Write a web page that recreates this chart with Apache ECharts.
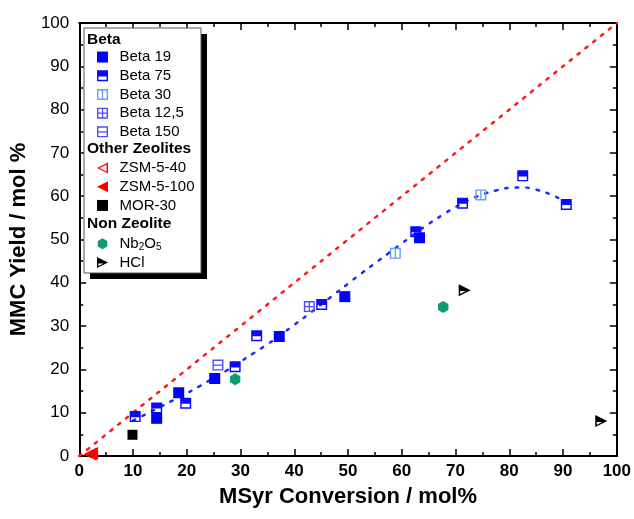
<!DOCTYPE html>
<html>
<head>
<meta charset="utf-8">
<script src="https://cdn.jsdelivr.net/npm/echarts@6/dist/echarts.min.js"></script>
<style>
html,body{margin:0;padding:0;background:#fff;}
#c{width:634px;height:519px;}
</style>
</head>
<body>
<div id="c"></div>
<script>
// ---- data ----
var xTicks = [0,10,20,30,40,50,60,70,80,90,100];
var yTicks = [0,10,20,30,40,50,60,70,80,90,100];

var beta19X = [14.4, 18.5, 25.2, 37.2, 49.4, 63.3];
var beta19Y = [8.7, 14.6, 17.9, 27.6, 36.8, 50.4];

var beta75X = [10.4, 14.4, 19.8, 29.0, 33.0, 45.1, 62.6, 71.3, 82.5, 90.6];
var beta75Y = [9.1, 11.1, 12.2, 20.6, 27.8, 35.0, 51.8, 58.4, 64.7, 58.1];

var beta30X = [58.8, 74.7];
var beta30Y = [46.8, 60.3];

var beta125X = [42.8];
var beta125Y = [34.5];

var beta150X = [25.8];
var beta150Y = [21.0];

var zsm40X = [2.0];
var zsm40Y = [0.4];
var zsm100X = [2.3];
var zsm100Y = [0.6];

var mor30X = [9.9];
var mor30Y = [4.9];

var nbX = [29.0, 67.7];
var nbY = [17.7, 34.4];

var hclX = [71.7, 97.1];
var hclY = [38.3, 8.1];

var parityX = [0, 100];
var parityY = [0, 100];

var fitX = [10, 12.5, 15, 17.5, 20, 22.5, 25, 27.5, 30, 32.5, 35, 37.5, 40, 42.5, 45, 47.5, 50, 52.5, 55, 57.5, 60, 62.5, 65, 67.5, 70, 72.5, 75, 77.5, 80, 82.5, 85, 87.5, 90, 91];
var fitY = [8.2, 9.7, 11.3, 12.9, 14.5, 16.2, 18.0, 19.8, 21.8, 23.8, 25.8, 28.0, 30.3, 32.6, 35.0, 37.4, 39.8, 42.2, 44.5, 46.8, 49.1, 51.4, 53.6, 55.6, 57.5, 59.1, 60.4, 61.3, 61.9, 62.0, 61.5, 60.5, 59.0, 58.2];

function pairs(xs, ys){ return xs.map(function(x,i){ return [x, ys[i]]; }); }

// ---- symbols (holes via opposite winding) ----
var SYM_SQUARE = 'path://M0,0L100,0L100,100L0,100Z';
var SYM_TOPHALF = 'path://M0,0L100,0L100,100L0,100ZM13,56L13,87L87,87L87,56Z';
var SYM_HLINE = 'path://M0,0L100,0L100,100L0,100ZM13,13L13,44L87,44L87,13ZM13,56L13,87L87,87L87,56Z';
var SYM_VLINE = 'path://M0,0L100,0L100,100L0,100ZM13,13L13,87L44,87L44,13ZM56,13L56,87L87,87L87,13Z';
var SYM_GRID = 'path://M0,0L100,0L100,100L0,100ZM13,13L13,44L44,44L44,13ZM56,13L56,44L87,44L87,13ZM13,56L13,87L44,87L44,56ZM56,56L56,87L87,87L87,56Z';
var SYM_LTRI = 'path://M0,50L100,0L100,100Z';
var SYM_LTRI_OPEN = 'path://M0,50L100,0L100,100ZM24,50L86,81L86,19Z';
var SYM_HEX = 'path://M50,0L93.3,25L93.3,75L50,100L6.7,75L6.7,25Z';
var SYM_HCL = 'path://M0,0L100,50L0,100ZM13,58L13,82L58,58Z';

var FONT = 'Liberation Sans, Arial, sans-serif';

function sc(name, xs, ys, sym, color, size){
  return {
    name: name, type: 'scatter', data: pairs(xs, ys),
    symbol: sym, symbolSize: size || 11, symbolKeepAspect: true,
    itemStyle: {color: color, opacity: 1},
    xAxisIndex: 0, yAxisIndex: 0, z: 5
  };
}

var chart = echarts.init(document.getElementById('c'), null, {renderer: 'canvas'});

var axisCommon = {
  type: 'value', min: 0, max: 100, interval: 10,
  axisLine: {show: true, onZero: false, lineStyle: {color: '#000', width: 2}},
  axisTick: {show: true, inside: true, length: 7, lineStyle: {color: '#000', width: 1.5}},
  minorTick: {show: true, splitNumber: 2, length: 4, lineStyle: {color: '#000', width: 1.5}},
  splitLine: {show: false}
};

var legendCommon = {
  orient: 'vertical', itemWidth: 24, itemHeight: 11, itemGap: 0, padding: 0,
  selectedMode: false, z: 20,
  textStyle: {fontFamily: FONT, fontSize: 15, color: '#000', lineHeight: 18.7,
    rich: {s: {fontFamily: FONT, fontSize: 10, padding: [7,0,0,0], color: '#000'}}},
  formatter: function(n){ return n === 'Nb2O5' ? 'Nb{s|2}O{s|5}' : n; }
};

var option = {
  backgroundColor: '#fff',
  animation: false,
  grid: {left: 79, right: 15, top: 23, bottom: 63, containLabel: false},
  xAxis: [
    Object.assign({}, axisCommon, {
      position: 'bottom',
      name: 'MSyr Conversion / mol%', nameLocation: 'middle', nameGap: 30,
      nameTextStyle: {fontFamily: FONT, fontSize: 22, fontWeight: 'bold', color: '#000'},
      axisLabel: {show: true, margin: 7, fontFamily: FONT, fontSize: 17, fontWeight: 'bold', color: '#000',
        formatter: function(v){ return xTicks.indexOf(v) >= 0 ? String(v) : ''; }}
    }),
    Object.assign({}, axisCommon, {position: 'top', axisLabel: {show: false}})
  ],
  yAxis: [
    Object.assign({}, axisCommon, {
      position: 'left',
      name: 'MMC Yield / mol %', nameLocation: 'middle', nameGap: 43, nameRotate: 90,
      nameTextStyle: {fontFamily: FONT, fontSize: 22, fontWeight: 'bold', color: '#000'},
      axisLabel: {show: true, margin: 10, fontFamily: FONT, fontSize: 17, color: '#000',
        formatter: function(v){ return yTicks.indexOf(v) >= 0 ? String(v) : ''; }}
    }),
    Object.assign({}, axisCommon, {position: 'right', axisLabel: {show: false}})
  ],
  legend: [
    Object.assign({}, legendCommon, {left: 97, top: 47.7,
      data: ['Beta 19','Beta 75','Beta 30','Beta 12,5','Beta 150']}),
    Object.assign({}, legendCommon, {left: 97, top: 158.7,
      data: ['ZSM-5-40','ZSM-5-100','MOR-30']}),
    Object.assign({}, legendCommon, {left: 97, top: 234.5,
      data: ['Nb2O5','HCl']})
  ],
  graphic: [
    {type: 'rect', z: 10, shape: {x: 90, y: 34, width: 117, height: 245}, style: {fill: '#000'}},
    {type: 'rect', z: 11, shape: {x: 84, y: 28, width: 117, height: 245}, style: {fill: '#fff', stroke: '#555', lineWidth: 1}},
    {type: 'text', z: 21, x: 87, y: 40, style: {text: 'Beta', font: 'bold 15.5px ' + FONT, fill: '#000', verticalAlign: 'middle'}},
    {type: 'text', z: 21, x: 87, y: 149, style: {text: 'Other Zeolites', font: 'bold 15.5px ' + FONT, fill: '#000', verticalAlign: 'middle'}},
    {type: 'text', z: 21, x: 87, y: 224, style: {text: 'Non Zeolite', font: 'bold 15.5px ' + FONT, fill: '#000', verticalAlign: 'middle'}}
  ],
  series: [
    {name: 'parity', type: 'line', data: pairs(parityX, parityY), showSymbol: false, symbol: 'none',
      lineStyle: {color: '#ff1a1a', width: 2.5, type: [2.5, 7.5], cap: 'round'}, z: 2, silent: true},
    {name: 'fit', type: 'line', data: pairs(fitX, fitY), smooth: true, showSymbol: false, symbol: 'none',
      lineStyle: {color: '#1a2cff', width: 2.5, type: [2.5, 8], cap: 'round'}, z: 2, silent: true},
    sc('ZSM-5-40', zsm40X, zsm40Y, SYM_LTRI_OPEN, '#ff0000', 13),
    sc('ZSM-5-100', zsm100X, zsm100Y, SYM_LTRI, '#ff0000', 13),
    sc('MOR-30', mor30X, mor30Y, SYM_SQUARE, '#000000', 10),
    sc('Beta 150', beta150X, beta150Y, SYM_HLINE, '#4f4fff', 11),
    sc('Beta 12,5', beta125X, beta125Y, SYM_GRID, '#4f4fff', 11),
    sc('Beta 30', beta30X, beta30Y, SYM_VLINE, '#66a0f2', 11),
    sc('Beta 75', beta75X, beta75Y, SYM_TOPHALF, '#0a0aff', 11),
    sc('Beta 19', beta19X, beta19Y, SYM_SQUARE, '#0000ff', 11),
    sc('Nb2O5', nbX, nbY, SYM_HEX, '#109a70', 12),
    sc('HCl', hclX, hclY, SYM_HCL, '#000000', 12)
  ]
};
chart.setOption(option);
</script>
</body>
</html>
